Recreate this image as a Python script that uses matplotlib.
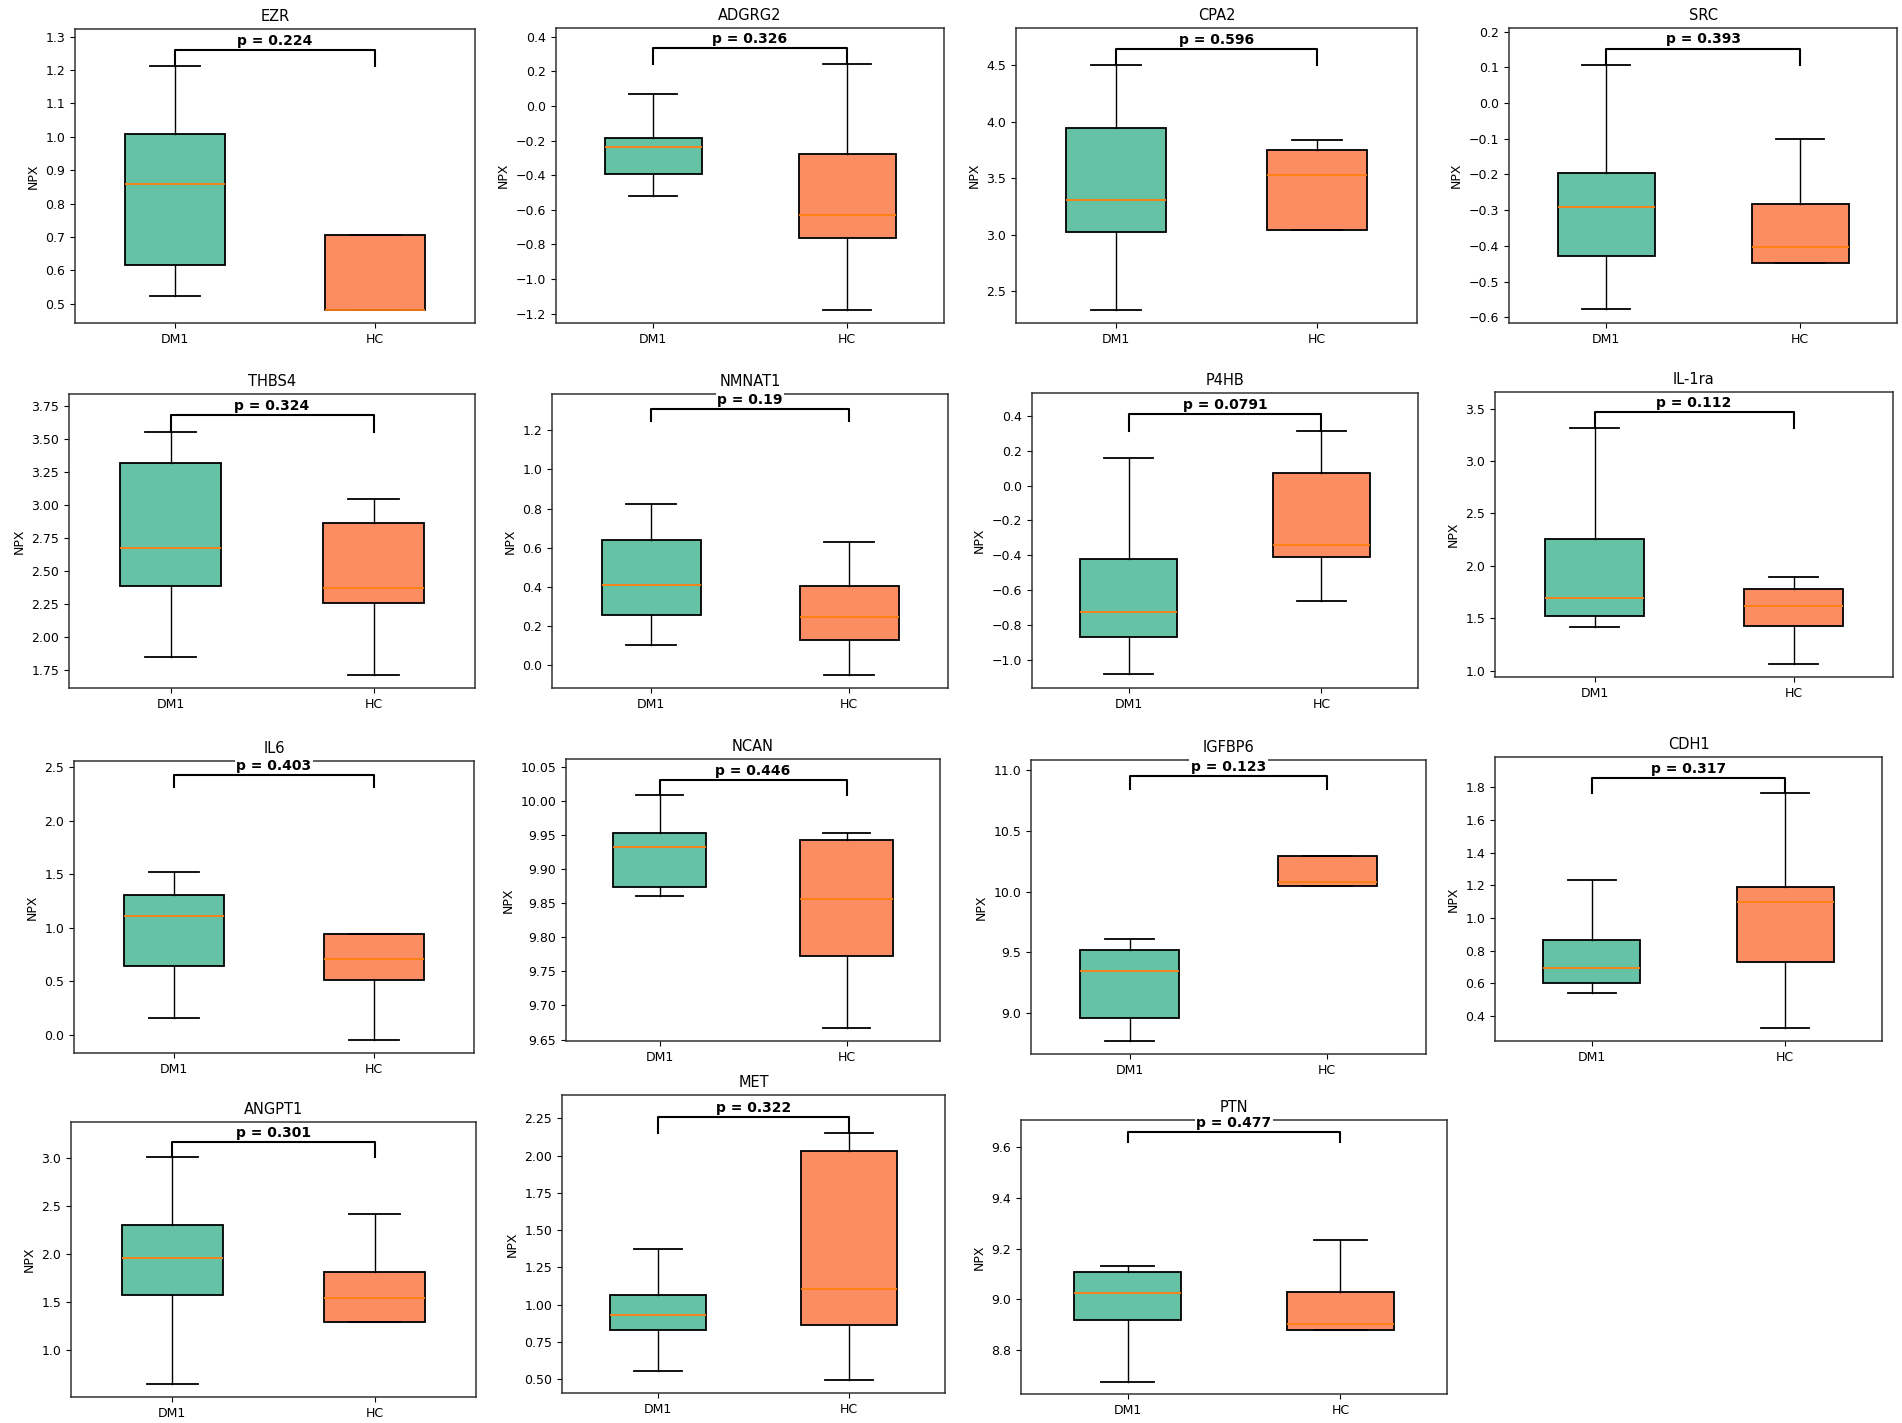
import matplotlib
matplotlib.use("Agg")
import matplotlib.pyplot as plt

# ---------------- data ----------------
proteins = ["EZR", "ADGRG2", "CPA2", "SRC",
            "THBS4", "NMNAT1", "P4HB", "IL-1ra",
            "IL6", "NCAN", "IGFBP6", "CDH1",
            "ANGPT1", "MET", "PTN"]
groups = ["DM1", "HC"]

dm1_whislo = [0.523, -0.521, 2.334, -0.578, 1.851, 0.106, -1.080, 1.413, 0.152, 9.861, 8.767, 0.542, 0.641, 0.554, 8.677]
dm1_q1     = [0.617, -0.391, 3.027, -0.428, 2.389, 0.259, -0.865, 1.525, 0.641, 9.874, 8.956, 0.601, 1.564, 0.828, 8.918]
dm1_med    = [0.858, -0.238, 3.302, -0.291, 2.671, 0.410, -0.722, 1.690, 1.113, 9.932, 9.347, 0.691, 1.958, 0.931, 9.026]
dm1_q3     = [1.008, -0.184, 3.941, -0.196, 3.317, 0.639, -0.418, 2.253, 1.309, 9.953, 9.520, 0.866, 2.296, 1.065, 9.107]
dm1_whishi = [1.212, 0.069, 4.500, 0.1065, 3.554, 0.823, 0.157, 3.312, 1.524, 10.0085, 9.610, 1.234, 3.007, 1.375, 9.132]

hc_whislo = [0.482, -1.178, 3.041, -0.447, 1.715, -0.047, -0.661, 1.060, -0.047, 9.667, 10.042, 0.325, 1.282, 0.498, 8.879]
hc_q1     = [0.482, -0.762, 3.041, -0.447, 2.261, 0.131, -0.410, 1.426, 0.510, 9.772, 10.042, 0.730, 1.282, 0.864, 8.879]
hc_med    = [0.482, -0.629, 3.530, -0.404, 2.374, 0.247, -0.340, 1.620, 0.712, 9.856, 10.078, 1.101, 1.537, 1.103, 8.902]
hc_q3     = [0.706, -0.279, 3.749, -0.283, 2.867, 0.406, 0.071, 1.776, 0.945, 9.943, 10.289, 1.187, 1.808, 2.029, 9.028]
hc_whishi = [0.706, 0.241, 3.840, -0.102, 3.046, 0.632, 0.314, 1.891, 0.945, 9.953, 10.289, 1.763, 2.415, 2.154, 9.233]

p_values = [0.224, 0.326, 0.596, 0.393, 0.324, 0.19, 0.0791, 0.112,
            0.403, 0.446, 0.123, 0.317, 0.301, 0.322, 0.477]

# maximum of raw values (incl. hidden outliers) and bracket height
bracket_base = [1.212, 0.241, 4.500, 0.1065, 3.554, 1.248, 0.314, 3.312,
                2.317, 10.0085, 10.847, 1.763, 3.007, 2.154, 9.618]
bracket_h = [0.048, 0.092, 0.142, 0.046, 0.125, 0.059, 0.097, 0.154,
             0.108, 0.022, 0.106, 0.096, 0.160, 0.106, 0.040]

# ---------------- layout ----------------
W, H = 1902, 1423
# (left, right, top, bottom) in pixels
boxes_px = [
    (75, 475, 29, 323), (556, 944, 28, 323), (1016, 1417, 28, 323), (1509, 1897, 28, 323),
    (69, 475, 394, 688), (552, 948, 394, 688), (1032, 1418, 393, 688), (1495, 1893, 392, 677),
    (74, 474, 761, 1053), (566, 940, 759, 1041), (1031, 1426, 760, 1054), (1495, 1882, 757, 1041),
    (71, 476, 1122, 1397), (562, 945, 1095, 1393), (1021, 1447, 1120, 1394),
]
ylims = [
    (0.442, 1.323), (-1.254, 0.45), (2.216, 4.831), (-0.616, 0.210),
    (1.617, 3.838), (-0.115, 1.385), (-1.158, 0.529), (0.940, 3.659),
    (-0.171, 2.559), (9.648, 10.061), (8.663, 11.082), (0.247, 1.986),
    (0.505, 3.373), (0.408, 2.406), (8.628, 9.706),
]

colors = ["#66c2a5", "#fc8d62"]
FS_TICK = 9
FS_TITLE = 10.5
FS_P = 10

fig = plt.figure(figsize=(W / 100, H / 100), dpi=100)

for i, name in enumerate(proteins):
    l, r, t, b = boxes_px[i]
    ax = fig.add_axes([l / W, 1 - b / H, (r - l) / W, (b - t) / H])
    stats = [
        dict(label=groups[0], whislo=dm1_whislo[i], q1=dm1_q1[i], med=dm1_med[i],
             q3=dm1_q3[i], whishi=dm1_whishi[i], fliers=[]),
        dict(label=groups[1], whislo=hc_whislo[i], q1=hc_q1[i], med=hc_med[i],
             q3=hc_q3[i], whishi=hc_whishi[i], fliers=[]),
    ]
    bp = ax.bxp(stats, positions=[1, 2], widths=0.5, patch_artist=True,
                showfliers=False,
                boxprops=dict(edgecolor="black", linewidth=1.3),
                whiskerprops=dict(color="black", linewidth=1.0),
                capprops=dict(color="black", linewidth=1.3),
                medianprops=dict(color="#ff7f0e", linewidth=1.3))
    for patch, c in zip(bp["boxes"], colors):
        patch.set_facecolor(c)

    y, h = bracket_base[i], bracket_h[i]
    ax.plot([1, 1, 2, 2], [y, y + h, y + h, y], color="black", linewidth=1.5,
            zorder=6, clip_on=False)
    ax.annotate(f"p = {p_values[i]:.3g}", xy=(1.5, y + h), xytext=(0, 1.5),
                textcoords="offset points", ha="center", va="bottom",
                fontsize=FS_P, fontweight="bold", annotation_clip=False,
                bbox=dict(facecolor="white", edgecolor="none", pad=1.2), zorder=5)

    ax.set_xlim(0.5, 2.5)
    ax.set_ylim(*ylims[i])
    ax.set_title(name, fontsize=FS_TITLE, pad=6)
    ax.set_ylabel("NPX", fontsize=FS_TICK)
    ax.tick_params(labelsize=FS_TICK)
    for s in ax.spines.values():
        s.set_color("#333333")
        s.set_linewidth(1.1)

fig.savefig("out.png", dpi=100)
